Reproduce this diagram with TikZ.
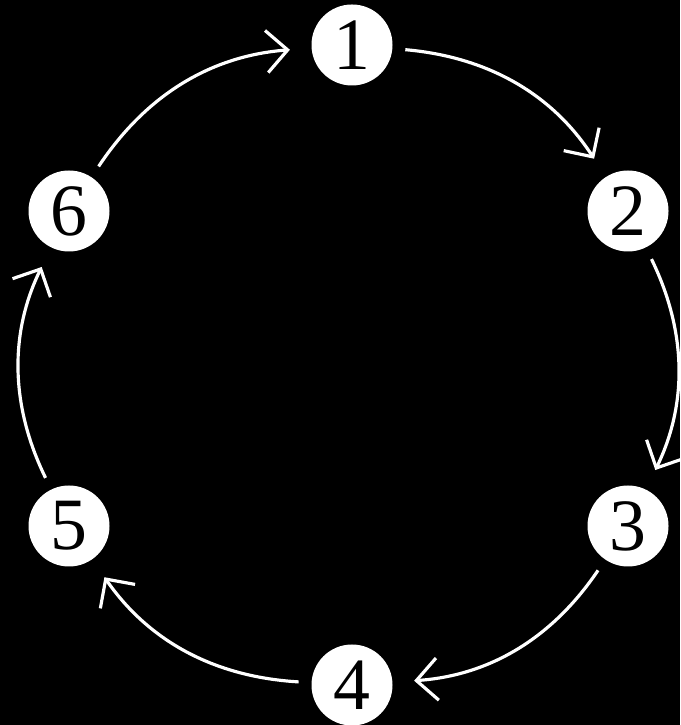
\documentclass[tikz,border=0pt]{standalone}
\usepackage{fontspec}
\setmainfont{Liberation Serif}
\usetikzlibrary{arrows.meta}

\begin{document}
\begin{tikzpicture}[
   >={Straight Barb[length=6pt, width=12pt, line width=0.9pt]},
   stn/.style={circle, fill=white, text=black, inner sep=0pt,
               minimum size=0.81cm, font=\fontsize{21}{21}\selectfont},
   arr/.style={->, draw=white, line width=0.9pt,
               shorten <=3.5pt, shorten >=6pt},
]
% ---- background ----
\fill[black] (0,0) rectangle (6.8,7.25);
\useasboundingbox (0,0) rectangle (6.8,7.25);

% ---- nodes ----
\node[stn] (n1) at (3.52,6.80) {1};
\node[stn] (n2) at (6.28,5.14) {2};
\node[stn] (n3) at (6.28,1.99) {3};
\node[stn] (n4) at (3.52,0.40) {4};
\node[stn] (n5) at (0.69,1.99) {5};
\node[stn] (n6) at (0.69,5.14) {6};

% ---- arrows ----
\draw[arr] (n1) to[bend left=26] (n2);
\draw[arr] (n2) to[bend left=26] (n3);
\draw[arr] (n3) to[bend left=26] (n4);
\draw[arr] (n4) to[bend left=26] (n5);
\draw[arr] (n5) to[bend left=26] (n6);
\draw[arr] (n6) to[bend left=26] (n1);
\end{tikzpicture}
\end{document}
